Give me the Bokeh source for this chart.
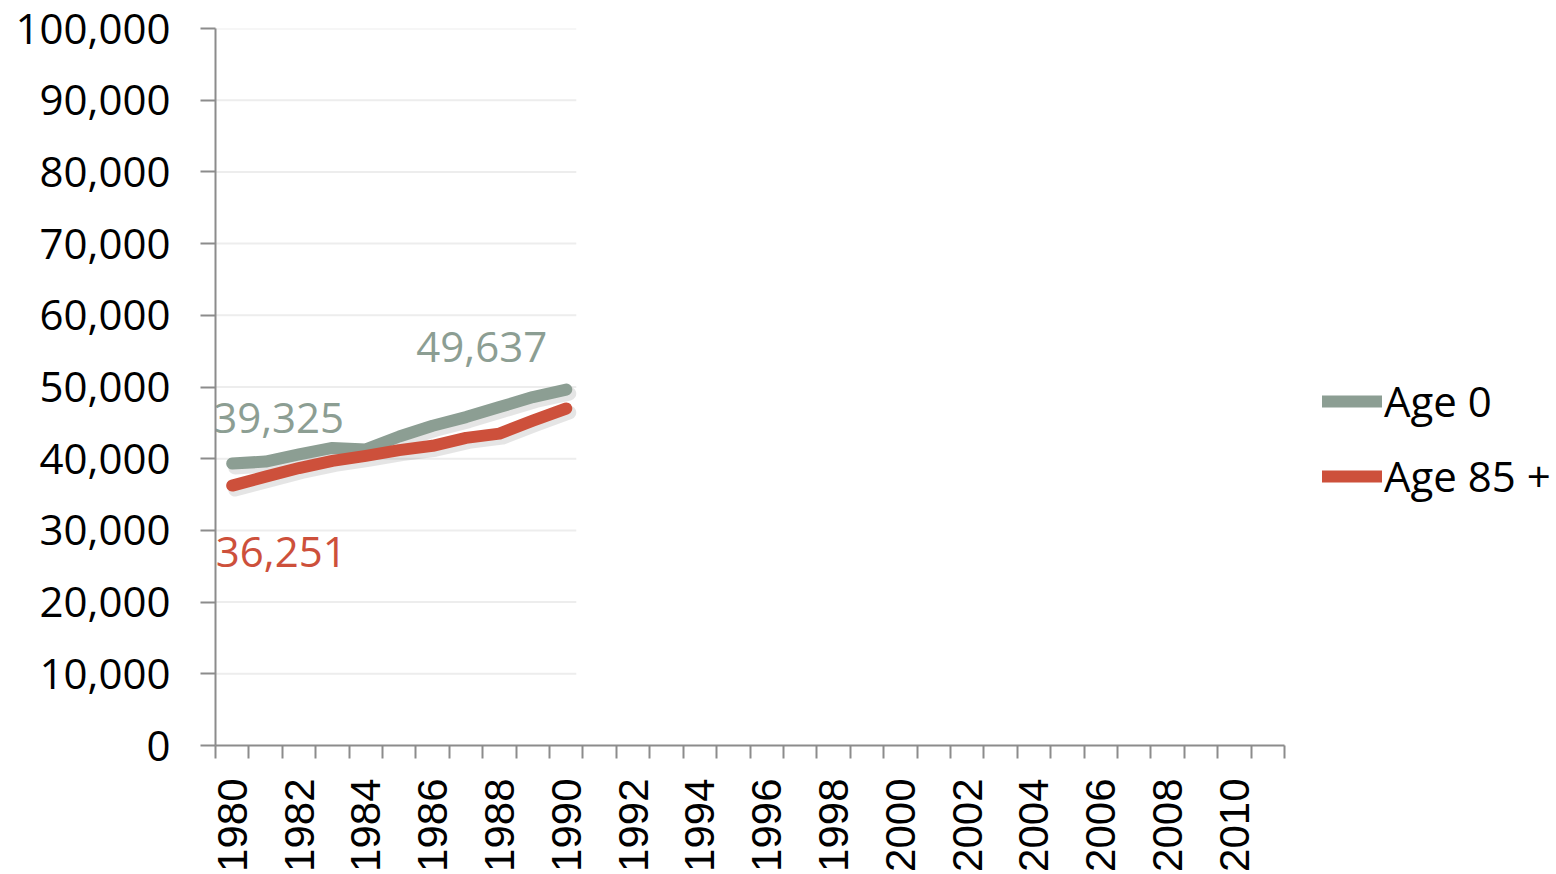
from bokeh.plotting import figure
from bokeh.models import (FixedTicker, NumeralTickFormatter, Range1d, Legend,
                          LegendItem, ColumnDataSource)
from bokeh.core.properties import value
from bokeh.embed import file_html
from bokeh.resources import INLINE
import math

# ---- data ----
years = [1980, 1981, 1982, 1983, 1984, 1985, 1986, 1987, 1988, 1989, 1990]
age0 = [39325, 39600, 40600, 41500, 41300, 43100, 44600, 45800, 47200, 48600, 49637]
age85 = [36251, 37500, 38700, 39700, 40400, 41200, 41800, 42900, 43500, 45300, 47000]
axis_years = list(range(1980, 2012))
tick_label_years = list(range(1980, 2011, 2))
y_ticks = [0, 10000, 20000, 30000, 40000, 50000, 60000, 70000, 80000, 90000, 100000]

GRAY = "#8C9E93"
RED = "#CD503B"
AXIS = "#8C8C8C"
FONT = "Open Sans"

px_per_year = 1069 / len(axis_years)
x_start = axis_years[0] - 0.5
frame_w = 1556 - 215
x_end = x_start + frame_w / px_per_year

p = figure(frame_width=frame_w, frame_height=717, min_border_left=215,
           min_border_top=28, min_border_right=0, min_border_bottom=0,
           x_range=Range1d(x_start, x_end), y_range=Range1d(y_ticks[0], y_ticks[-1]),
           output_backend="svg", toolbar_location=None, tools="")
p.outline_line_color = None
p.background_fill_color = "white"
p.border_fill_color = "white"
p.xgrid.visible = False
p.ygrid.visible = False

# partial gridlines (chart revealed up to just past 1990)
grid_end = years[-1] + 0.3
src_grid = ColumnDataSource(dict(x0=[x_start] * (len(y_ticks) - 1),
                                 x1=[grid_end] * (len(y_ticks) - 1),
                                 y=y_ticks[1:]))
p.segment(x0="x0", x1="x1", y0="y", y1="y", source=src_grid,
          line_color="#EDEDED", line_width=2)

# soft shadows
dy = 4 * (y_ticks[-1] - y_ticks[0]) / 717
dx = 3 / px_per_year
for vals in (age0, age85):
    p.line([y_ + dx for y_ in years], [v - dy for v in vals], line_color="black",
           line_alpha=0.10, line_width=14, line_join="round", line_cap="round")

r0 = p.line(years, age0, line_color=GRAY, line_width=12, line_join="round", line_cap="round")
r85 = p.line(years, age85, line_color=RED, line_width=12, line_join="round", line_cap="round")

# data labels
p.text(x=[years[0] + 1.39], y=[45700], text=["{:,}".format(age0[0])],
       text_color=GRAY, text_font=value(FONT), text_font_size=value("42px"),
       text_align="center", text_baseline="middle")
p.text(x=[years[0] + 1.47], y=[27000], text=["{:,}".format(age85[0])],
       text_color=RED, text_font=value(FONT), text_font_size=value("42px"),
       text_align="center", text_baseline="middle")
p.text(x=[years[0] + 7.47], y=[55600], text=["{:,}".format(age0[-1])],
       text_color=GRAY, text_font=value(FONT), text_font_size=value("42px"),
       text_align="center", text_baseline="middle")

# y axis
ya = p.yaxis[0]
ya.ticker = FixedTicker(ticks=y_ticks, minor_ticks=[])
ya.formatter = NumeralTickFormatter(format="0,0")
ya.axis_line_color = AXIS
ya.axis_line_width = 2
ya.major_tick_line_color = AXIS
ya.major_tick_line_width = 2
ya.major_tick_out = 15
ya.major_tick_in = 0
ya.minor_tick_line_color = None
ya.major_label_standoff = 30
ya.major_label_text_font = FONT
ya.major_label_text_font_size = "42px"
ya.major_label_text_color = "black"

# x axis
xa = p.xaxis[0]
xa.bounds = (x_start, axis_years[-1] + 0.5)
xa.ticker = FixedTicker(ticks=tick_label_years,
                        minor_ticks=[y - 0.5 for y in axis_years] + [axis_years[-1] + 0.5])
xa.major_label_overrides = {y: str(y) for y in tick_label_years}
xa.axis_line_color = AXIS
xa.axis_line_width = 2
xa.major_tick_line_color = None
xa.major_tick_out = 0
xa.major_tick_in = 0
xa.minor_tick_line_color = AXIS
xa.minor_tick_line_width = 2
xa.minor_tick_out = 13
xa.minor_tick_in = 0
xa.major_label_orientation = math.pi / 2
xa.major_label_standoff = 20
xa.major_label_text_font = "Liberation Sans"
xa.major_label_text_font_size = "42px"
xa.major_label_text_color = "black"

legend = Legend(items=[LegendItem(label="Age 0", renderers=[r0]),
                       LegendItem(label="Age 85 +", renderers=[r85])],
                location=(1107, 241), orientation="vertical",
                glyph_width=60, glyph_height=42, label_height=42,
                label_standoff=2, spacing=18, padding=0, margin=0,
                border_line_color=None, background_fill_alpha=0,
                label_text_font=FONT, label_text_font_size="42px",
                label_text_color="black")
p.add_layout(legend)

open("out.html", "w").write(file_html(p, INLINE))
